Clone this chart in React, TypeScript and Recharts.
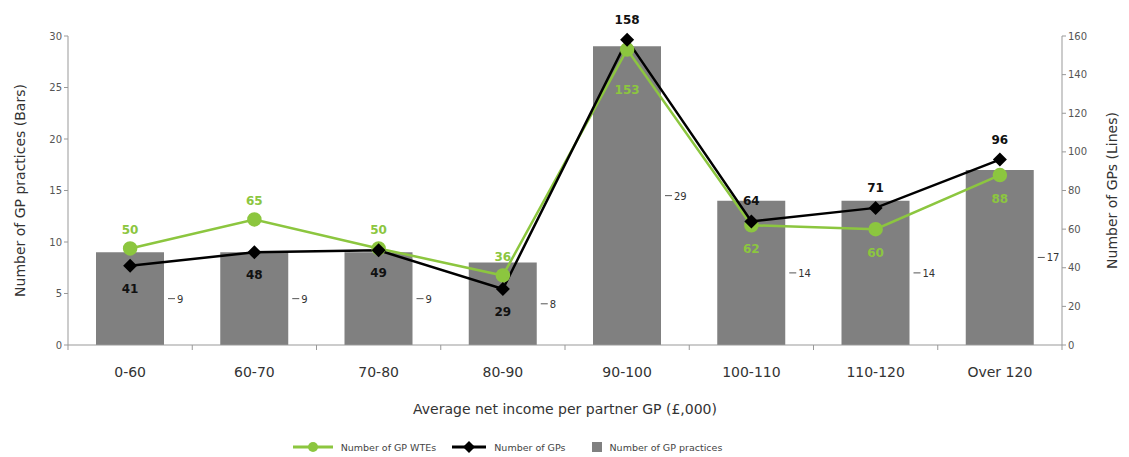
import React from 'react';
import { ComposedChart, Bar, Line, XAxis, YAxis, Legend, LabelList, Label } from 'recharts';

const categories = ['0-60', '60-70', '70-80', '80-90', '90-100', '100-110', '110-120', 'Over 120'];
const practices = [9, 9, 9, 8, 29, 14, 14, 17];
const gps = [41, 48, 49, 29, 158, 64, 71, 96];
const wtes = [50, 65, 50, 36, 153, 62, 60, 88];
const leftTicks = [0, 5, 10, 15, 20, 25, 30];
const rightTicks = [0, 20, 40, 60, 80, 100, 120, 140, 160];

const GREEN = '#8cc63f';
const GRAY = '#808080';
const FONT = '"DejaVu Sans", Verdana, sans-serif';

const W = 1129;
const H = 457;
const LEFT_W = 68;
const RIGHT_W = 67;
const BAND = (W - LEFT_W - RIGHT_W) / categories.length;

const data = categories.map((name, i) => ({
  name,
  practices: practices[i],
  gps: gps[i],
  wtes: wtes[i],
}));

const XTick = (props: any) => {
  const { x, y, payload, index } = props;
  const axisY = y - 8;
  return (
    <g>
      <line x1={x - BAND / 2} y1={axisY} x2={x - BAND / 2} y2={axisY + 5} stroke="#999" />
      {index === categories.length - 1 && (
        <line x1={x + BAND / 2} y1={axisY} x2={x + BAND / 2} y2={axisY + 5} stroke="#999" />
      )}
      <text x={x} y={axisY + 32} textAnchor="middle" fontSize={14} fill="#333" fontFamily={FONT}>
        {payload.value}
      </text>
    </g>
  );
};

const Diamond = (props: any) => {
  const { cx, cy, index } = props;
  const r = 7;
  return (
    <path
      key={`d-${index}`}
      d={`M${cx},${cy - r} L${cx + r},${cy} L${cx},${cy + r} L${cx - r},${cy} Z`}
      fill="#000"
    />
  );
};

// black labels sit under the first four points, above the rest; green the other way round
const gpLabel = (props: any) => {
  const { x, y, value, index } = props;
  const below = index < 4;
  return (
    <text x={x} y={below ? y + 27 : y - 16} textAnchor="middle" fontSize={12} fontWeight="bold" fill="#111" fontFamily={FONT}>
      {value}
    </text>
  );
};

const wteLabel = (props: any) => {
  const { x, y, value, index } = props;
  const below = index >= 4;
  const dy = index === 4 ? 44 : 28;
  return (
    <text x={x} y={below ? y + dy : y - 14} textAnchor="middle" fontSize={12} fontWeight="bold" fill={GREEN} fontFamily={FONT}>
      {value}
    </text>
  );
};

const barLabel = (props: any) => {
  const { x, y, width, height, value } = props;
  const lx = x + width + 4;
  const ly = y + height / 2;
  return (
    <g>
      <line x1={lx} y1={ly} x2={lx + 7} y2={ly} stroke="#555" />
      <text x={lx + 9} y={ly + 4} fontSize={10} fill="#333" fontFamily={FONT}>
        {value}
      </text>
    </g>
  );
};

const LegendContent = () => (
  <div style={{ height: 20, display: 'flex', justifyContent: 'center', alignItems: 'center', fontFamily: FONT, fontSize: 9.5, color: '#444', paddingRight: 114 }}>
    <svg width={40} height={12} style={{ marginRight: 8 }}>
      <line x1={0} y1={6} x2={40} y2={6} stroke={GREEN} strokeWidth={3} />
      <circle cx={20} cy={6} r={5} fill={GREEN} />
    </svg>
    <span style={{ marginRight: 16 }}>Number of GP WTEs</span>
    <svg width={34} height={12} style={{ marginRight: 8 }}>
      <line x1={0} y1={6} x2={34} y2={6} stroke="#000" strokeWidth={3} />
      <path d="M17,0 L23,6 L17,12 L11,6 Z" fill="#000" />
    </svg>
    <span style={{ marginRight: 26 }}>Number of GPs</span>
    <svg width={10} height={10} style={{ marginRight: 8 }}>
      <rect x={0} y={0} width={10} height={10} fill={GRAY} />
    </svg>
    <span>Number of GP practices</span>
  </div>
);

export default function App() {
  return (
    <div style={{ position: 'absolute', left: 0, top: 0, width: W, height: H, background: '#fff' }}>
      <ComposedChart width={W} height={H} data={data} margin={{ top: 36, right: 0, left: 0, bottom: 0 }}>
        <XAxis
          dataKey="name"
          height={92}
          tick={<XTick />}
          tickLine={false}
          axisLine={{ stroke: '#999' }}
          interval={0}
        >
          <Label
            value="Average net income per partner GP (£,000)"
            position="insideBottom"
            offset={23}
            style={{ fontSize: 14, fill: '#333', fontFamily: FONT }}
          />
        </XAxis>
        <YAxis
          yAxisId="left"
          width={LEFT_W}
          domain={[0, 30]}
          ticks={leftTicks}
          tick={{ fontSize: 10, fill: '#555', fontFamily: FONT }}
          tickSize={4}
          tickLine={{ stroke: '#999' }}
          axisLine={{ stroke: '#999' }}
        >
          <Label
            content={(p: any) => (
              <text
                x={20}
                y={p.viewBox.y + p.viewBox.height / 2}
                transform={`rotate(-90 20 ${p.viewBox.y + p.viewBox.height / 2})`}
                textAnchor="middle"
                dominantBaseline="central"
                fontSize={14}
                fill="#333"
                fontFamily={FONT}
              >
                Number of GP practices (Bars)
              </text>
            )}
          />
        </YAxis>
        <YAxis
          yAxisId="right"
          orientation="right"
          width={RIGHT_W}
          domain={[0, 160]}
          ticks={rightTicks}
          tick={{ fontSize: 10, fill: '#555', fontFamily: FONT }}
          tickSize={4}
          tickLine={{ stroke: '#999' }}
          axisLine={{ stroke: '#999' }}
        >
          <Label
            content={(p: any) => (
              <text
                x={W - 17}
                y={p.viewBox.y + p.viewBox.height / 2}
                transform={`rotate(-90 ${W - 17} ${p.viewBox.y + p.viewBox.height / 2})`}
                textAnchor="middle"
                dominantBaseline="central"
                fontSize={14}
                fill="#333"
                fontFamily={FONT}
              >
                Number of GPs (Lines)
              </text>
            )}
          />
        </YAxis>
        <Legend verticalAlign="bottom" content={<LegendContent />} />
        <Bar yAxisId="left" dataKey="practices" name="Number of GP practices" fill={GRAY} barSize={68} isAnimationActive={false}>
          <LabelList dataKey="practices" content={barLabel} />
        </Bar>
        <Line
          yAxisId="right"
          dataKey="wtes"
          name="Number of GP WTEs"
          stroke={GREEN}
          strokeWidth={2.5}
          dot={{ r: 6, fill: GREEN, stroke: GREEN }}
          isAnimationActive={false}
        >
          <LabelList dataKey="wtes" content={wteLabel} />
        </Line>
        <Line
          yAxisId="right"
          dataKey="gps"
          name="Number of GPs"
          stroke="#000"
          strokeWidth={2.5}
          dot={<Diamond />}
          isAnimationActive={false}
        >
          <LabelList dataKey="gps" content={gpLabel} />
        </Line>
      </ComposedChart>
    </div>
  );
}
